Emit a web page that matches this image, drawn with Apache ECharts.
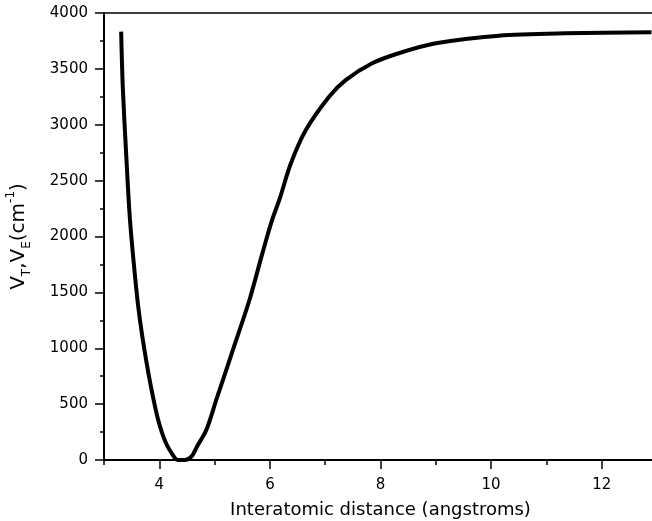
<!DOCTYPE html>
<html>
<head>
<meta charset="utf-8">
<script src="https://cdn.jsdelivr.net/npm/echarts@6/dist/echarts.min.js"></script>
<style>
  html, body { margin: 0; padding: 0; background: #fff; }
  #main { width: 652px; height: 521px; }
</style>
</head>
<body>
<div id="main"></div>
<script>
// distance (angstroms) and potential (cm-1)
var distance = [3.31, 3.34, 3.40, 3.47, 3.58, 3.65, 3.74, 3.85, 3.98, 4.12, 4.28, 4.33, 4.46,
                4.58, 4.68, 4.85, 5.03, 5.33, 5.63, 5.87, 6.04, 6.17, 6.38, 6.65, 7.07, 7.37,
                7.85, 8.33, 9.00, 10.14, 11.34, 12.90];
var potential = [3833, 3333, 2747, 2148, 1548, 1253, 958, 653, 358, 152, 18, 0, 0,
                 30, 119, 268, 537, 984, 1432, 1860, 2148, 2327, 2655, 2953, 3251, 3400,
                 3550, 3640, 3729, 3797, 3818, 3827];

var xRange = [3, 13];
var xMajor = [4, 6, 8, 10, 12];
var yTicks = { min: 0, max: 4000, interval: 500 };

var points = distance.map(function (d, i) { return [d, potential[i]]; });

var myChart = echarts.init(document.getElementById('main'));
var font = 'DejaVu Sans, sans-serif';
var black = '#000';

option = {
    animation: false,
    grid: {
        left: 104, top: 13, right: -5, bottom: 61,
        outerBoundsMode: 'none',
        containLabel: false,
        show: true, borderColor: black, borderWidth: 1.5
    },
    xAxis: [{
        // short ticks every 1 unit, labels only on the even values
        type: 'value',
        min: xRange[0], max: xRange[1], interval: 1,
        name: 'Interatomic distance (angstroms)',
        nameLocation: 'middle',
        nameGap: 41,
        nameTextStyle: { fontFamily: font, fontSize: 18, color: black },
        axisLine: { lineStyle: { color: black, width: 2 } },
        axisTick: { length: 5, lineStyle: { color: black, width: 1.5 } },
        axisLabel: {
            fontFamily: font, fontSize: 15, color: black, margin: 18,
            formatter: function (v) { return xMajor.indexOf(v) >= 0 ? String(v) : ''; }
        },
        splitLine: { show: false }
    }, {
        // long ticks at the labelled values
        type: 'value',
        position: 'bottom',
        min: xRange[0], max: xRange[1],
        axisLine: { show: false },
        axisTick: { show: true, length: 9, customValues: xMajor, lineStyle: { color: black, width: 1.5 } },
        axisLabel: { show: false },
        splitLine: { show: false }
    }],
    yAxis: {
        type: 'value',
        min: yTicks.min, max: yTicks.max, interval: yTicks.interval,
        name: '{v|V}{s|T}{v|,V}{s|E}{v|(cm}{p|-1}{v|)}',
        nameLocation: 'middle',
        nameGap: 71,
        nameRotate: 90,
        nameTextStyle: {
            fontFamily: font, color: black,
            rich: {
                v: { fontFamily: font, fontSize: 20, color: black, lineHeight: 28, verticalAlign: 'middle' },
                s: { fontFamily: font, fontSize: 12, color: black, lineHeight: 28, verticalAlign: 'bottom' },
                p: { fontFamily: font, fontSize: 12, color: black, lineHeight: 28, verticalAlign: 'top' }
            }
        },
        axisLine: { lineStyle: { color: black, width: 2 } },
        axisTick: { length: 9, lineStyle: { color: black, width: 1.5 } },
        minorTick: { show: true, splitNumber: 2, length: 4, lineStyle: { color: black, width: 1.5 } },
        axisLabel: {
            fontFamily: font, fontSize: 15, color: black, margin: 16,
            formatter: function (v) { return String(v); }
        },
        splitLine: { show: false }
    },
    series: [{
        type: 'line',
        data: points,
        smooth: 0.3,
        symbol: 'none',
        lineStyle: { color: black, width: 4 }
    }]
};
myChart.setOption(option);
</script>
</body>
</html>
